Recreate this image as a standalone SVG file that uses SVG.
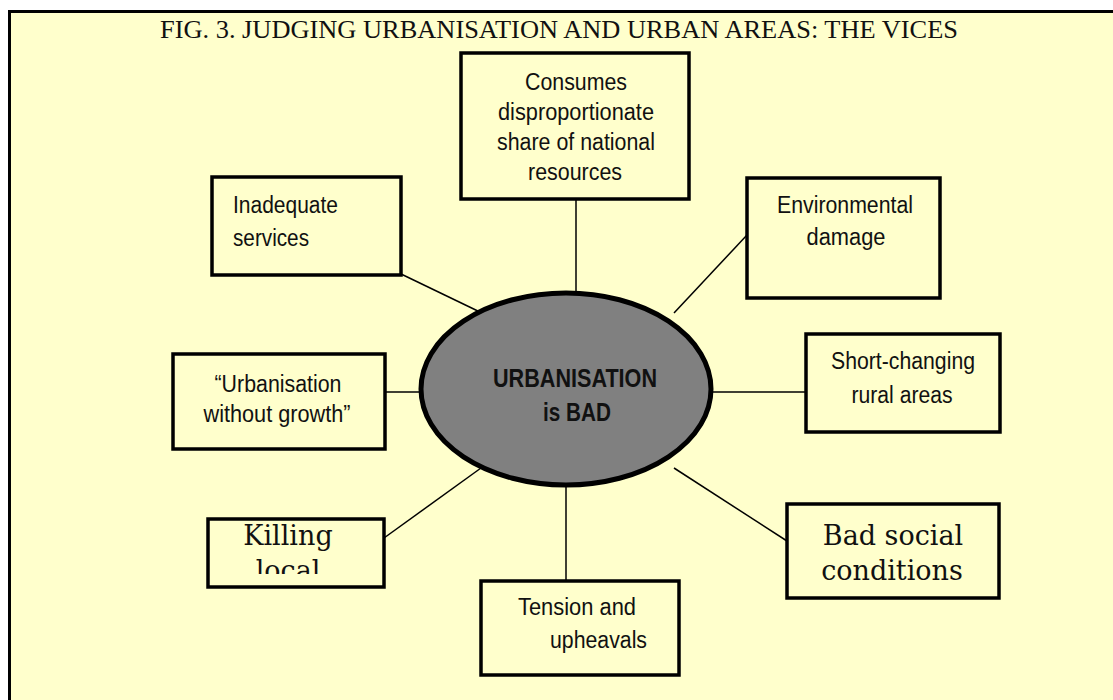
<svg xmlns="http://www.w3.org/2000/svg" width="1113" height="700" viewBox="0 0 1113 700">
<style>
.box{fill:#FFFFCC;stroke:#000;stroke-width:3.5}
.t{font-family:"Liberation Sans",Arial,sans-serif;font-size:23.5px;fill:#111}
.b{font-family:"Liberation Sans",Arial,sans-serif;font-size:25px;font-weight:bold;fill:#111}
.s{font-family:"DejaVu Serif","Liberation Serif",serif;font-size:27px;fill:#111}
.c{text-anchor:middle}
.ln{stroke:#000;stroke-width:1.5;fill:none}
</style>
<defs><clipPath id="kc"><rect x="210" y="520" width="172" height="54"/></clipPath></defs>
<rect x="0" y="0" width="1113" height="700" fill="#fff"/>
<rect x="9.5" y="11.5" width="1115" height="700" fill="#FFFFCC" stroke="#000" stroke-width="3"/>
<text x="559" y="38" text-anchor="middle" font-family="Liberation Serif,serif" font-size="25" textLength="798" lengthAdjust="spacingAndGlyphs" fill="#111">FIG. 3. JUDGING URBANISATION AND URBAN AREAS: THE VICES</text>
<g id="connectors">
<line class="ln" x1="576" y1="199" x2="576" y2="294"/>
<line class="ln" x1="399" y1="273" x2="482" y2="313"/>
<line class="ln" x1="747" y1="235" x2="674" y2="313"/>
<line class="ln" x1="385" y1="392" x2="421" y2="392"/>
<line class="ln" x1="712" y1="392" x2="806" y2="392"/>
<line class="ln" x1="384" y1="538" x2="481" y2="468"/>
<line class="ln" x1="674" y1="468" x2="787" y2="541"/>
<line class="ln" x1="566" y1="485" x2="566" y2="581"/>
</g>
<g id="consumes"><rect class="box" x="461" y="53" width="228" height="146"/>
<text class="t c" x="576" y="90" textLength="102" lengthAdjust="spacingAndGlyphs">Consumes</text>
<text class="t c" x="576" y="120" textLength="156" lengthAdjust="spacingAndGlyphs">disproportionate</text>
<text class="t c" x="576" y="150" textLength="158" lengthAdjust="spacingAndGlyphs">share of national</text>
<text class="t c" x="575" y="180" textLength="94" lengthAdjust="spacingAndGlyphs">resources</text></g>
<g id="inadequate"><rect class="box" x="212" y="177" width="189" height="98"/>
<text class="t" x="233" y="213" textLength="105" lengthAdjust="spacingAndGlyphs">Inadequate</text>
<text class="t" x="233" y="246" textLength="76" lengthAdjust="spacingAndGlyphs">services</text></g>
<g id="environmental"><rect class="box" x="747" y="178" width="193" height="120"/>
<text class="t c" x="845" y="213" textLength="136" lengthAdjust="spacingAndGlyphs">Environmental</text>
<text class="t c" x="846" y="245" textLength="79" lengthAdjust="spacingAndGlyphs">damage</text></g>
<g id="without-growth"><rect class="box" x="173" y="354" width="212" height="95"/>
<text class="t c" x="278" y="392" textLength="127" lengthAdjust="spacingAndGlyphs">“Urbanisation</text>
<text class="t c" x="277" y="422" textLength="147" lengthAdjust="spacingAndGlyphs">without growth”</text></g>
<g id="short-changing"><rect class="box" x="806" y="334" width="194" height="98"/>
<text class="t c" x="903" y="369" textLength="144" lengthAdjust="spacingAndGlyphs">Short-changing</text>
<text class="t c" x="902" y="403" textLength="101" lengthAdjust="spacingAndGlyphs">rural areas</text></g>
<g id="center"><ellipse cx="566" cy="389" rx="145" ry="96" fill="#808080" stroke="#000" stroke-width="5"/>
<text class="b c" x="575" y="387" textLength="164" lengthAdjust="spacingAndGlyphs">URBANISATION</text>
<text class="b c" x="577" y="421" textLength="68" lengthAdjust="spacingAndGlyphs">is BAD</text></g>
<g id="killing"><rect class="box" x="208" y="519" width="176" height="68"/>
<g clip-path="url(#kc)"><text class="s c" x="288" y="545">Killing</text><text class="s c" x="288" y="580">local</text></g></g>
<g id="bad-social"><rect class="box" x="787" y="504" width="212" height="94"/>
<text class="s c" x="893" y="545">Bad social</text><text class="s c" x="892" y="580">conditions</text></g>
<g id="tension"><rect class="box" x="481" y="581" width="198" height="94"/>
<text class="t" x="518" y="615" textLength="118" lengthAdjust="spacingAndGlyphs">Tension and</text>
<text class="t" x="550" y="648" textLength="97" lengthAdjust="spacingAndGlyphs">upheavals</text></g>
</svg>
